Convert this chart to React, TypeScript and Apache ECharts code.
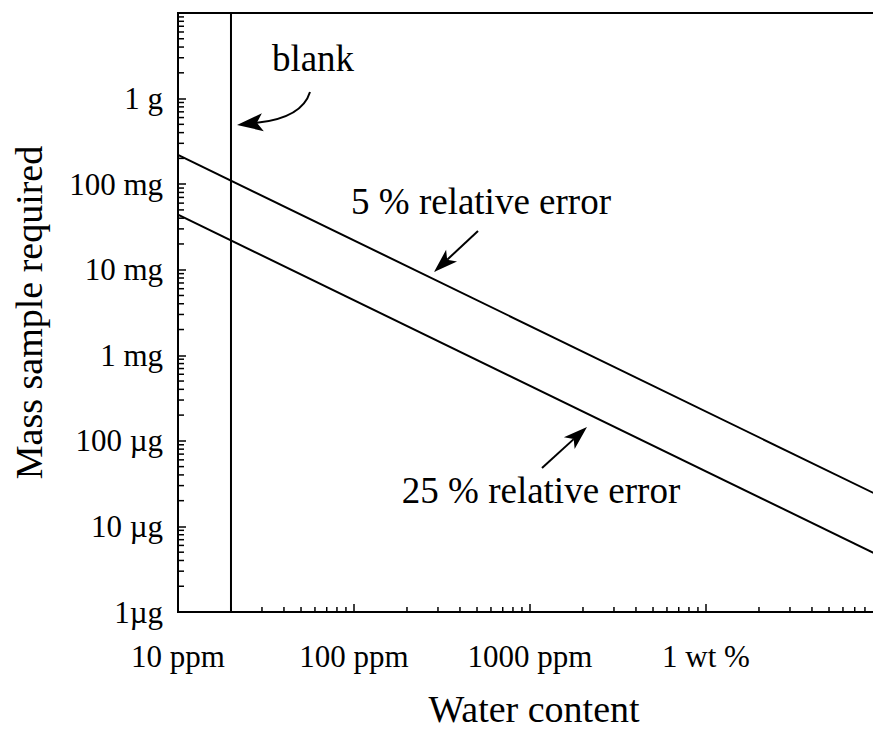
import React, { useEffect, useRef } from 'react';
import * as echarts from 'echarts';

// ---- data ----
const waterContentPpm = [10, 100000];
const massFivePct = [0.22, 0.000022]; // grams, 5 % relative error
const massTwentyFivePct = [0.044, 0.0000044]; // grams, 25 % relative error
const blankPpm = [20, 20];
const blankMass = [1e-6, 10];

const xTickExponents = [1, 2, 3, 4];
const xTickLabels = ['10 ppm', '100 ppm', '1000 ppm', '1 wt %'];
const yTickExponents = [-6, -5, -4, -3, -2, -1, 0];
const yTickLabels = ['1µg', '10 µg', '100 µg', '1 mg', '10 mg', '100 mg', '1 g'];

const X_MIN = 10;
const X_MAX = 100000;
const Y_MIN = 1e-6;
const Y_MAX = 10;

const FONT = '"Liberation Serif", "Times New Roman", serif';

function minorTickValues(minExp: number, maxExp: number): number[] {
  const out: number[] = [];
  for (let e = minExp; e < maxExp; e++) {
    for (let m = 2; m <= 9; m++) out.push(m * Math.pow(10, e));
  }
  return out;
}

function arrowHead(tip: number[], from: number[], len = 24, half = 8, notch = 6) {
  const dx = tip[0] - from[0];
  const dy = tip[1] - from[1];
  const L = Math.hypot(dx, dy);
  const ux = dx / L;
  const uy = dy / L;
  const px = -uy;
  const py = ux;
  const bx = tip[0] - ux * len;
  const by = tip[1] - uy * len;
  const nx = tip[0] - ux * (len - notch);
  const ny = tip[1] - uy * (len - notch);
  return {
    points: [tip, [bx + px * half, by + py * half], [nx, ny], [bx - px * half, by - py * half]],
    notch: [nx, ny],
  };
}

export default function App() {
  const ref = useRef<HTMLDivElement>(null);

  useEffect(() => {
    if (!ref.current) return;
    const chart = echarts.init(ref.current, null, { renderer: 'svg' });

    const xMinor = minorTickValues(1, 5).map((v) => [v, Y_MIN, 0]);
    const yMinor = minorTickValues(-6, 1).map((v) => [X_MIN, v, 1]);

    const a1Start = [478, 231];
    const a1Tip = [434, 272];
    const h1 = arrowHead(a1Tip, a1Start);
    const a2Start = [542, 468];
    const a2Tip = [587, 427];
    const h2 = arrowHead(a2Tip, a2Start);
    const cStart = [310, 92];
    const cCtrl = [302, 118];
    const cTip = [237, 125];
    const h3 = arrowHead(cTip, cCtrl, 26, 9, 6);

    const option: any = {
      animation: false,
      backgroundColor: '#fff',
      grid: {
        left: 178,
        top: 13,
        width: 704,
        height: 599,
        outerBoundsMode: 'none',
        show: true,
        borderColor: '#000',
        borderWidth: 2,
        backgroundColor: 'transparent',
      },
      xAxis: {
        type: 'log',
        logBase: 10,
        min: X_MIN,
        max: X_MAX,
        splitNumber: 4,
        name: 'Water content',
        nameLocation: 'middle',
        nameGap: 78,
        nameTextStyle: { fontSize: 38, fontFamily: FONT, color: '#000', padding: [0, 0, 0, 8] },
        axisLine: { lineStyle: { color: '#000', width: 2 } },
        axisTick: { inside: true, length: 8, lineStyle: { color: '#000', width: 1.5 } },
        axisLabel: {
          fontSize: 31,
          fontFamily: FONT,
          color: '#000',
          margin: 29,
          formatter: (v: number) => {
            const i = xTickExponents.indexOf(Math.round(Math.log10(v)));
            return i >= 0 ? xTickLabels[i] : '';
          },
        },
        splitLine: { show: false },
        minorTick: { show: false },
      },
      yAxis: {
        type: 'log',
        logBase: 10,
        min: Y_MIN,
        max: Y_MAX,
        splitNumber: 7,
        name: 'Mass sample required',
        nameLocation: 'middle',
        nameGap: 130,
        nameRotate: 90,
        nameTextStyle: { fontSize: 38, fontFamily: FONT, color: '#000' },
        axisLine: { lineStyle: { color: '#000', width: 2 } },
        axisTick: { inside: true, length: 8, lineStyle: { color: '#000', width: 1.5 } },
        axisLabel: {
          fontSize: 31,
          fontFamily: FONT,
          color: '#000',
          margin: 15,
          formatter: (v: number) => {
            const i = yTickExponents.indexOf(Math.round(Math.log10(v)));
            return i >= 0 ? yTickLabels[i] : '';
          },
        },
        splitLine: { show: false },
      },
      series: [
        {
          name: '5 % relative error',
          type: 'line',
          data: waterContentPpm.map((x, i) => [x, massFivePct[i]]),
          symbol: 'none',
          lineStyle: { color: '#000', width: 2 },
        },
        {
          name: '25 % relative error',
          type: 'line',
          data: waterContentPpm.map((x, i) => [x, massTwentyFivePct[i]]),
          symbol: 'none',
          lineStyle: { color: '#000', width: 2 },
        },
        {
          name: 'blank',
          type: 'line',
          data: blankPpm.map((x, i) => [x, blankMass[i]]),
          symbol: 'none',
          lineStyle: { color: '#000', width: 2 },
        },
        {
          name: 'minor ticks',
          type: 'custom',
          clip: false,
          silent: true,
          encode: { x: 0, y: 1 },
          data: [...xMinor, ...yMinor],
          renderItem: (params: any, api: any) => {
            const p = api.coord([api.value(0), api.value(1)]);
            const isY = api.value(2) === 1;
            return {
              type: 'line',
              shape: isY
                ? { x1: p[0], y1: p[1], x2: p[0] + 6, y2: p[1] }
                : { x1: p[0], y1: p[1], x2: p[0], y2: p[1] - 5 },
              style: { stroke: '#000', lineWidth: 1.5 },
            };
          },
        },
      ],
      graphic: [
        {
          type: 'text',
          x: 313,
          y: 58,
          style: { text: 'blank', fontSize: 37, fontFamily: FONT, fill: '#000', align: 'center', verticalAlign: 'middle' },
        },
        {
          type: 'text',
          x: 481,
          y: 201,
          style: { text: '5 % relative error', fontSize: 37, fontFamily: FONT, fill: '#000', align: 'center', verticalAlign: 'middle' },
        },
        {
          type: 'text',
          x: 541,
          y: 490,
          style: { text: '25 % relative error', fontSize: 37, fontFamily: FONT, fill: '#000', align: 'center', verticalAlign: 'middle' },
        },
        {
          type: 'line',
          shape: { x1: a1Start[0], y1: a1Start[1], x2: h1.notch[0], y2: h1.notch[1] },
          style: { stroke: '#000', lineWidth: 2 },
        },
        { type: 'polygon', shape: { points: h1.points }, style: { fill: '#000' } },
        {
          type: 'line',
          shape: { x1: a2Start[0], y1: a2Start[1], x2: h2.notch[0], y2: h2.notch[1] },
          style: { stroke: '#000', lineWidth: 2 },
        },
        { type: 'polygon', shape: { points: h2.points }, style: { fill: '#000' } },
        {
          type: 'bezierCurve',
          shape: { x1: cStart[0], y1: cStart[1], cpx1: cCtrl[0], cpy1: cCtrl[1], x2: h3.notch[0], y2: h3.notch[1] },
          style: { stroke: '#000', lineWidth: 2, fill: null },
        },
        { type: 'polygon', shape: { points: h3.points }, style: { fill: '#000' } },
      ],
    };

    chart.setOption(option);
    return () => chart.dispose();
  }, []);

  return (
    <div style={{ position: 'absolute', left: 0, top: 0, width: 873, height: 734, overflow: 'hidden' }}>
      <div ref={ref} style={{ position: 'absolute', left: 0, top: 0, width: 900, height: 734 }} />
    </div>
  );
}
